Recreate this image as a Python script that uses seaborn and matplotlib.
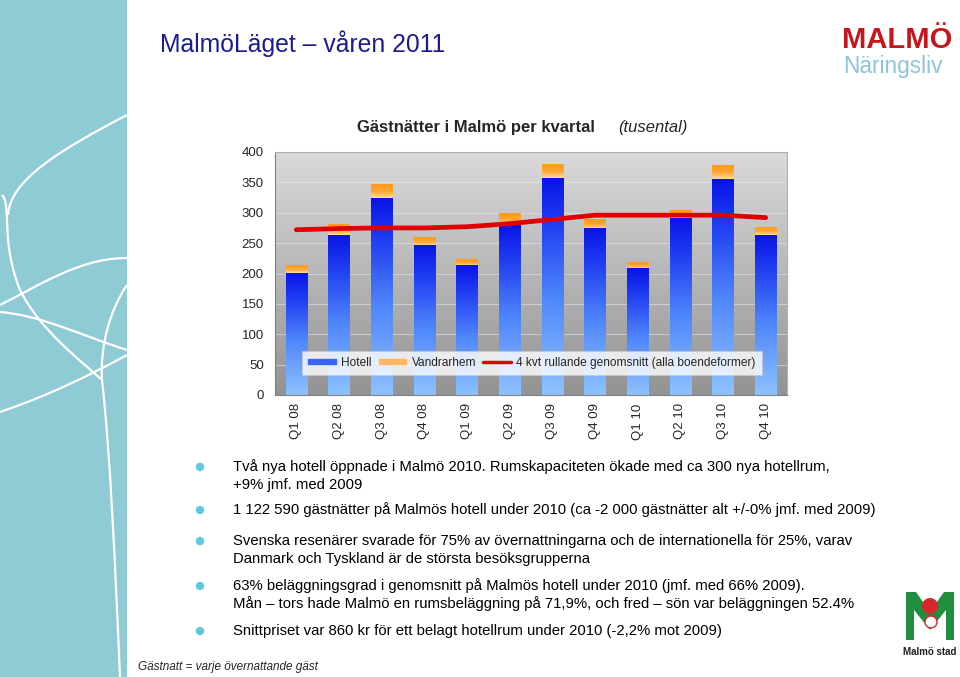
import numpy as np
import pandas as pd
import seaborn as sns
import matplotlib
matplotlib.use("Agg")
import matplotlib.pyplot as plt
from matplotlib.colors import LinearSegmentedColormap
from matplotlib.path import Path
from matplotlib.patches import PathPatch, Rectangle, Circle, Polygon
from matplotlib.lines import Line2D

# data (tusental gästnätter)
quarters = ["Q1 08", "Q2 08", "Q3 08", "Q4 08", "Q1 09", "Q2 09",
            "Q3 09", "Q4 09", "Q1 10", "Q2 10", "Q3 10", "Q4 10"]
hotell = [200, 263, 324, 246, 213, 280, 357, 274, 208, 291, 355, 263]
vandrarhem = [13, 17, 23, 14, 10, 19, 23, 15, 11, 13, 23, 12]
rullande = [272, 274, 275, 275, 277, 282, 289, 296, 296, 296, 296, 292]
yticks = [0, 50, 100, 150, 200, 250, 300, 350, 400]

bullets = [
    ["Två nya hotell öppnade i Malmö 2010. Rumskapaciteten ökade med ca 300 nya hotellrum,",
     "+9% jmf. med 2009"],
    ["1 122 590 gästnätter på Malmös hotell under 2010 (ca -2 000 gästnätter alt +/-0% jmf. med 2009)"],
    ["Svenska resenärer svarade för 75% av övernattningarna och de internationella för 25%, varav",
     "Danmark och Tyskland är de största besöksgrupperna"],
    ["63% beläggningsgrad i genomsnitt på Malmös hotell under 2010 (jmf. med 66% 2009).",
     "Mån – tors hade Malmö en rumsbeläggning på 71,9%, och fred – sön var beläggningen 52.4%"],
    ["Snittpriset var 860 kr för ett belagt hotellrum under 2010 (-2,2% mot 2009)"],
]
bullet_y = [467, 510, 541, 586, 631]

total = [h + v for h, v in zip(hotell, vandrarhem)]
df = pd.DataFrame({"kvartal": quarters, "hotell": hotell, "total": total})

sns.set_style("white")
plt.rcParams["font.family"] = ["Liberation Sans", "DejaVu Sans"]

W, H = 960, 677
fig = plt.figure(figsize=(W / 100, H / 100), dpi=100)
fig.patch.set_facecolor("white")

def px(x, y):
    return x / W, 1 - y / H

# left teal strip with white curves
deco = fig.add_axes([0, 0, 1, 1], zorder=0)
deco.set_xlim(0, W)
deco.set_ylim(H, 0)
deco.axis("off")
deco.add_patch(Rectangle((0, 0), 127, H, color="#8fcbd4", lw=0))
curves = [
    [(127, 115), (60, 150), (10, 180), (8, 215)],
    [(2, 195), (12, 205), (0, 240), (20, 290)],
    [(20, 290), (40, 330), (80, 360), (102, 380)],
    [(102, 380), (110, 450), (115, 560), (120, 677)],
    [(0, 305), (40, 285), (80, 258), (127, 258)],
    [(0, 312), (40, 315), (80, 335), (127, 350)],
    [(127, 285), (110, 310), (100, 345), (102, 380)],
    [(0, 412), (50, 395), (90, 375), (127, 355)],
]
for c in curves:
    path = Path(c, [Path.MOVETO, Path.CURVE4, Path.CURVE4, Path.CURVE4])
    deco.add_patch(PathPatch(path, fc="none", ec="white", lw=1.6))

# header and logos
fig.text(*px(160, 52), "MalmöLäget – våren 2011", fontsize=17.8, color="#1c1c8e")
fig.text(*px(842, 48), "MALMÖ", fontsize=21, fontweight="bold", color="#c4161c")
fig.text(*px(843, 73), "Näringsliv", fontsize=16.3, color="#8cc5d6")

# Malmö stad logo (simplified)
deco.add_patch(Polygon([(906, 640), (906, 592), (916, 592), (930, 612), (944, 592),
                        (954, 592), (954, 640), (946, 640), (946, 610), (930, 630),
                        (914, 610), (914, 640)], color="#1f8f3f", lw=0))
deco.add_patch(Circle((930, 606), 8, color="#d9262b", lw=0))
deco.add_patch(Circle((931, 622), 6, color="white", ec="#d9262b", lw=1))
deco.text(930, 652, "Malmö stad", fontsize=7, fontweight="bold", ha="center", va="center",
          color="#222222")

# chart
ax = fig.add_axes([275 / W, 1 - 395 / H, (787 - 275) / W, (395 - 152) / H], zorder=2)
sns.barplot(data=df, x="kvartal", y="total", color="#ffb060", width=0.5, ax=ax,
            label="Vandrarhem", saturation=1)
sns.barplot(data=df, x="kvartal", y="hotell", color="#4477ff", width=0.5, ax=ax,
            label="Hotell", saturation=1)
ax.set_ylim(0, 400)
ax.set_xlim(-0.5, 11.5)

# background gradient
bg = LinearSegmentedColormap.from_list("bg", ["#939393", "#dadada"])
ax.imshow(np.linspace(0, 1, 256).reshape(-1, 1), cmap=bg, aspect="auto",
          extent=[0, 1, 0, 1], transform=ax.transAxes, origin="lower", zorder=0)
for t in yticks[1:-1]:
    ax.axhline(t, color="#e6e6e6", lw=0.7, alpha=0.6, zorder=0.5)

blue = LinearSegmentedColormap.from_list("bl", [(0, "#8ec2ff"), (0.45, "#4f86fb"),
                                               (0.8, "#1e3cf2"), (1, "#0a14e6")])
orange = LinearSegmentedColormap.from_list("or", ["#ffd9a6", "#ffa530", "#ff9a1a"])
grad = np.linspace(0, 1, 256).reshape(-1, 1)
n = len(quarters)
for i, p in enumerate(ax.patches):
    x0, w = p.get_x(), p.get_width()
    if i < n:
        y0, y1, cm = hotell[i], total[i], orange
    else:
        y0, y1, cm = 0, p.get_height(), blue
    ax.imshow(grad, cmap=cm, aspect="auto", extent=[x0, x0 + w, y0, y1],
              origin="lower", zorder=2)
    p.set_visible(False)

sns.lineplot(x=np.arange(n), y=rullande, color="#e00000", lw=3.4, ax=ax, zorder=3)
ax.set_xlim(-0.5, 11.5)
ax.set_ylim(0, 400)

ax.set_xlabel("")
ax.set_ylabel("")
ax.set_yticks(yticks)
ax.set_yticklabels([str(t) for t in yticks], fontsize=9.5)
ax.set_xticks(range(n))
ax.set_xticklabels(quarters, rotation=90, fontsize=9.5)
ax.set_xticks(np.arange(-0.5, n, 1), minor=True)
ax.tick_params(axis="x", which="major", length=0, pad=6)
ax.tick_params(axis="x", which="minor", length=4, color="#808080", direction="out")
ax.tick_params(axis="y", length=4, color="#808080", direction="out", pad=4)
for s in ["left", "bottom"]:
    ax.spines[s].set_color("#808080")
for s in ["top", "right"]:
    ax.spines[s].set_color("#b0b0b0")

handles = [Rectangle((0, 0), 1, 1, color="#3a66f5"),
           Rectangle((0, 0), 1, 1, color="#ffb860"),
           Line2D([0], [0], color="#e00000", lw=2.5)]
labels = ["Hotell", "Vandrarhem", "4 kvt rullande genomsnitt (alla boendeformer)"]
leg = ax.legend(handles, labels, loc="center", bbox_to_anchor=(0.502, 0.132), ncol=3,
                fontsize=8.6, frameon=True, fancybox=False, handlelength=2.3,
                handleheight=0.35, handletextpad=0.45, columnspacing=0.6,
                borderpad=0.5, edgecolor="#c8c8c8")
leg.get_frame().set_facecolor("white")
leg.get_frame().set_linewidth(0.6)
leg.set_zorder(5)

fig.text(*px(357, 132), "Gästnätter i Malmö per kvartal", fontsize=12, fontweight="bold")
fig.text(*px(618, 132), "(tusental)", fontsize=12, fontstyle="italic")

# bullet text
for lines, y in zip(bullets, bullet_y):
    deco.add_patch(Circle((200, y), 4.2, color="#5ec7dd", lw=0))
    for k, line in enumerate(lines):
        deco.text(233, y + k * 17.5, line, fontsize=10.7, va="center", color="black")

fig.text(*px(138, 670), "Gästnatt = varje övernattande gäst", fontsize=8.5,
         fontstyle="italic")

fig.savefig("out.png", dpi=100)
